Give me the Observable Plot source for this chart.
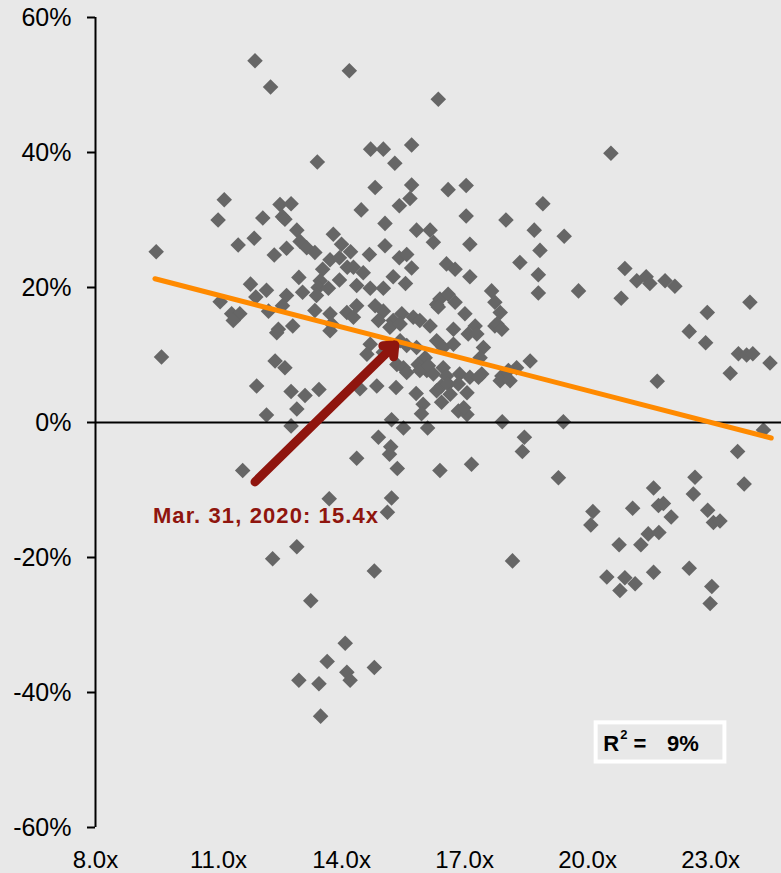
<!DOCTYPE html>
<html>
<head>
<meta charset="utf-8">
<script src="https://cdn.jsdelivr.net/npm/d3@7"></script>
<script src="https://cdn.jsdelivr.net/npm/@observablehq/plot@0.6"></script>
<style>
  html, body { margin: 0; padding: 0; background: #e8e8e8; }
  #chart { width: 781px; height: 873px; }
</style>
</head>
<body>
<div id="chart"></div>
<script>
// Forward P/E (x) and subsequent return in % (y)
const peRatio = [
  11.89,14.19,12.27,16.36,13.41,14.71,15.02,15.30,15.71,14.82,15.71,15.67,15.41,14.48,15.06,15.83,16.16,16.24,15.06,14.68,
  15.41,15.59,15.71,15.26,15.56,15.02,16.32,11.14,10.99,12.08,12.50,12.77,12.56,12.62,11.87,11.48,12.36,12.66,12.91,12.99,
  13.15,13.35,13.80,14.00,14.22,13.72,13.95,14.14,14.29,14.53,13.54,13.48,13.43,13.95,14.37,14.70,12.96,13.05,13.39,13.68,
  11.78,12.17,11.91,12.66,11.04,11.32,11.52,11.36,12.22,12.56,13.35,13.72,14.13,14.37,14.29,14.82,15.02,15.26,15.47,15.75,
  15.91,16.16,12.46,12.81,9.48,9.61,
  20.57,16.60,17.04,18.91,17.04,18.01,18.70,19.43,17.13,18.84,18.35,16.56,16.77,17.13,18.80,18.80,19.78,20.91,21.20,21.43,
  21.52,21.89,22.13,20.82,23.96,22.92,22.48,16.40,16.60,16.77,16.36,17.66,17.74,17.87,17.01,17.26,17.74,16.73,
  12.42,12.38,12.62,13.76,14.70,14.62,14.90,15.18,15.43,15.35,15.51,
  15.43,15.59,15.83,16.04,15.87,16.08,15.59,16.32,16.48,16.73,17.09,17.30,17.46,17.38,17.79,17.91,18.60,18.27,18.07,17.91,
  15.91,16.12,16.24,16.48,16.56,16.88,17.13,17.42,
  11.93,12.77,13.11,13.45,12.91,12.17,12.77,14.37,11.59,13.70,12.91,12.32,14.80,13.25,14.09,13.65,14.80,14.13,14.21,12.96,
  13.45,13.49,14.86,14.45,14.90,
  15.33,15.82,15.99,15.95,16.44,16.60,16.32,16.44,16.65,16.85,17.06,17.34,17.87,18.11,16.85,17.06,16.98,15.22,15.51,16.10,
  15.20,15.17,15.36,16.40,17.17,17.92,18.46,18.41,19.41,19.29,15.22,15.12,18.17,
  22.88,23.68,23.88,24.03,24.45,23.48,21.70,24.29,23.66,22.62,22.58,23.82,21.61,20.13,20.08,21.10,21.73,21.85,22.04,22.93,
  23.07,23.23,21.48,21.74,20.77,21.30,20.47,20.91,20.79,21.16,21.61,22.48,23.03,22.99,
  13.72,15.02
];
const fwdReturn = [
  53.6,52.1,49.7,47.9,38.6,40.5,40.5,38.4,41.1,34.8,35.2,33.2,32.1,31.5,29.5,28.5,28.5,26.7,26.2,24.9,
  24.4,24.9,22.9,21.6,20.6,19.9,17.5,33.0,30.0,30.3,32.3,32.4,30.5,30.1,27.3,26.3,24.8,25.8,28.5,26.8,
  25.9,25.2,27.9,26.4,25.3,24.1,24.4,23.0,23.0,22.2,22.7,21.0,20.0,21.1,20.3,19.9,21.5,19.3,18.8,19.9,
  20.5,19.6,18.6,18.8,17.9,16.1,16.1,15.1,16.5,17.3,16.6,16.1,16.3,17.3,15.6,17.3,16.5,15.1,16.1,15.6,
  15.1,14.3,13.8,14.3,25.3,9.7,
  39.9,34.5,35.1,32.4,30.6,30.0,28.5,27.6,26.4,25.5,23.7,23.5,22.7,21.6,21.9,19.2,19.5,22.8,21.0,21.6,
  20.6,21.0,20.2,18.4,17.8,16.3,13.5,18.3,19.0,17.8,17.1,19.5,17.8,16.3,16.1,14.3,14.3,13.8,
  13.3,9.1,8.1,14.6,11.6,10.1,15.1,14.1,14.6,8.6,8.1,
  12.1,11.4,11.1,9.6,8.6,7.7,7.4,12.1,11.1,11.6,13.1,13.1,11.1,9.6,14.6,13.8,9.1,8.1,7.7,6.9,
  7.7,8.4,7.2,8.1,6.9,7.2,6.7,7.2,
  5.4,4.6,4.0,4.9,2.0,1.1,-0.5,-5.3,-7.1,-11.3,-18.4,-20.2,-22.0,-26.4,-32.7,-35.4,-36.3,-37.0,-38.2,-38.2,
  -38.7,-43.5,5.4,5.0,-2.2,
  5.2,4.3,2.7,1.3,5.4,5.7,4.7,3.0,4.2,5.7,4.4,6.7,6.2,6.2,1.7,1.2,2.2,0.4,-0.8,-0.8,
  -3.6,-4.7,-6.8,-7.1,-6.2,0.1,-2.2,-4.3,0.1,-8.2,-11.2,-13.3,-20.5,
  11.8,10.2,10.0,10.2,8.8,7.3,6.1,-1.1,-4.3,-8.1,-10.6,-9.1,-9.7,-13.2,-15.2,-12.7,-12.3,-12.0,-14.0,-13.0,
  -14.8,-14.6,-16.5,-16.3,-18.1,-18.1,-22.9,-23.0,-24.9,-23.9,-22.2,-21.6,-24.3,-26.8,
  13.6,10.4
];
// Regression line end points (P/E, return %)
const trendPE = [9.45, 24.48];
const trendReturn = [21.3, -2.3];
// Current valuation arrow (start -> tip) and label
const arrowPE = [11.89, 15.30];
const arrowReturn = [-8.8, 11.5];
const arrowLabel = "Mar. 31, 2020: 15.4x";
const rSquared = "9%";
// Axis ticks
const xTicks = [8, 11, 14, 17, 20, 23];
const yTicks = [-60, -40, -20, 0, 20, 40, 60];

const points = peRatio.map((pe, i) => ({pe, ret: fwdReturn[i]}));
const trend = trendPE.map((pe, i) => ({pe, ret: trendReturn[i]}));
const arrow = [{x1: arrowPE[0], y1: arrowReturn[0], x2: arrowPE[1], y2: arrowReturn[1]}];

const red = "#8f150e";
const font = "'Liberation Sans', Arial, Helvetica, sans-serif";

const plot = Plot.plot({
  width: 781,
  height: 873,
  marginLeft: 95,
  marginRight: 0,
  marginTop: 17,
  marginBottom: 46,
  x: {domain: [8, 24.73]},
  y: {domain: [-60, 60]},
  style: {background: "#e8e8e8", fontFamily: font, color: "#000"},
  marks: [
    Plot.axisY(yTicks, {tickSize: 8, tickPadding: 16, strokeWidth: 2, tickFormat: d => d + "%", fontSize: 25, label: null}),
    Plot.axisX(xTicks, {tickSize: 0, tickPadding: 23, tickFormat: d => d.toFixed(1) + "x", fontSize: 24, label: null}),
    Plot.ruleX([8], {y1: -60, y2: 60, stroke: "#000", strokeWidth: 2}),
    Plot.dot(points, {x: "pe", y: "ret", symbol: "diamond2", r: 7, fill: "#666666", stroke: "none"}),
    Plot.ruleY([0], {stroke: "#000", strokeWidth: 2}),
    Plot.line(trend, {x: "pe", y: "ret", stroke: "#ff8a00", strokeWidth: 5, strokeLinecap: "round"}),
    Plot.arrow(arrow, {x1: "x1", y1: "y1", x2: "x2", y2: "y2", stroke: red, strokeWidth: 9, headLength: 2.0, headAngle: 80, strokeLinecap: "round", strokeLinejoin: "miter"}),
    Plot.text([arrowLabel], {x: 9.40, y: -13.8, text: d => d, textAnchor: "start", lineAnchor: "middle", fill: red, fontWeight: "bold", fontSize: 22}),
    Plot.rect([0], {x1: 20.21, x2: 23.35, y1: -44.5, y2: -50.3, fill: "none", stroke: "#ffffff", strokeWidth: 4}),
    Plot.text(["R"], {x: 20.38, y: -47.6, text: d => d, textAnchor: "start", lineAnchor: "middle", fontWeight: "bold", fontSize: 22, fill: "#000"}),
    Plot.text(["2"], {x: 20.80, y: -46.3, text: d => d, textAnchor: "start", lineAnchor: "middle", fontWeight: "bold", fontSize: 13, fill: "#000"}),
    Plot.text(["="], {x: 21.12, y: -47.6, text: d => d, textAnchor: "start", lineAnchor: "middle", fontWeight: "bold", fontSize: 22, fill: "#000"}),
    Plot.text([rSquared], {x: 21.94, y: -47.6, text: d => d, textAnchor: "start", lineAnchor: "middle", fontWeight: "bold", fontSize: 22, fill: "#000"})
  ]
});

d3.select(plot).selectAll("text")
  .filter(function () { return this.textContent === arrowLabel; })
  .attr("letter-spacing", "1.1px");

document.getElementById("chart").appendChild(plot);
</script>
</body>
</html>
